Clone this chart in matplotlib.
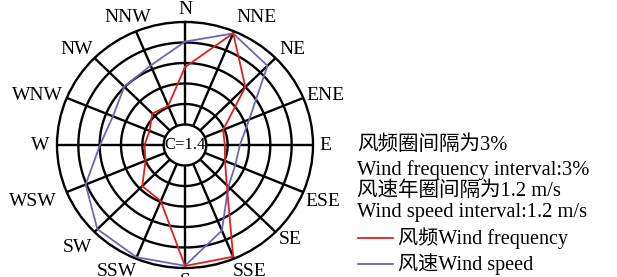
import numpy as np
import matplotlib
matplotlib.use("Agg")
import matplotlib.pyplot as plt

# ---------------- data ----------------
directions = ["N", "NNE", "NE", "ENE", "E", "ESE", "SE", "SSE",
              "S", "SSW", "SW", "WSW", "W", "WNW", "NW", "NNW"]
wind_freq = [8.4, 14.7, 9.0, 2.8, 2.6, 3.1, 5.3, 14.7,
             14.7, 5.9, 5.5, 3.0, 2.7, 2.4, 3.5, 3.2]          # %
wind_speed = [4.85, 5.87, 5.36, 2.71, 1.89, 1.86, 2.25, 4.22,
              5.87, 5.91, 5.77, 4.85, 3.58, 3.19, 3.63, 3.84]  # m/s
calm = 1.4
freq_interval = 3.0
speed_interval = 1.2
n_rings = 5

# label offsets from rose centre, in pixels (x right, y up)
label_dx = [0, 72, 107, 140, 140, 138, 105, 65, 0, -68, -108, -152, -145, -148, -108, -57]
label_dy = [135, 127, 95, 50, 0, -57, -95, -127, -136, -127, -102, -57, 0, 50, 95, 128]

# ---------------- figure ----------------
W, H = 617, 277
fig = plt.figure(figsize=(W / 100, H / 100), dpi=100)
fig.patch.set_facecolor("white")

cx, cy = 185, 145      # centre (px, from top)
rx, ry = 128, 123      # outer radii (px)
ax = fig.add_axes([(cx - rx) / W, (H - cy - ry) / H, 2 * rx / W, 2 * ry / H],
                  projection="polar")
ax.set_aspect("auto")
ax.set_theta_zero_location("N")
ax.set_theta_direction(-1)
rmax = 1 + n_rings
ax.set_ylim(0, rmax)
ax.grid(False)
ax.set_xticks([])
ax.set_yticks([])
ax.spines["polar"].set_linewidth(1.7)
ax.spines["polar"].set_color("black")

theta = np.deg2rad(np.arange(len(directions)) * 22.5)
circ = np.linspace(0, 2 * np.pi, 361)
grid_kw = dict(color="black", lw=1.7, solid_capstyle="butt", zorder=2)
for k in range(1, n_rings + 1):
    ax.plot(circ, np.full_like(circ, k), **grid_kw)
for t in theta:
    ax.plot([t, t], [1, rmax], **grid_kw)

r_freq = 1 + np.array(wind_freq) / freq_interval
r_speed = 1 + np.array(wind_speed) / speed_interval
tt = np.append(theta, theta[0])
ax.plot(tt, np.append(r_speed, r_speed[0]), color="#6a68b2", lw=1.3, zorder=3)
ax.plot(tt, np.append(r_freq, r_freq[0]), color="#e0201c", lw=1.3, zorder=4)

serif = ["Liberation Serif", "Noto Sans CJK SC"]
ax.text(0, 0, f"C={calm}", ha="center", va="center", fontsize=12,
        family=serif, zorder=5)

for name, dx, dy in zip(directions, label_dx, label_dy):
    ax.annotate(name, xy=(0, 0), xytext=(dx, dy), textcoords="offset pixels",
                ha="center", va="center", fontsize=14, family=serif,
                annotation_clip=False)

# ---------------- right-hand notes ----------------
def fx(x):
    return x / W

def fy(y):
    return 1 - y / H

notes = [f"风频圈间隔为{freq_interval:g}%",
         f"Wind frequency interval:{freq_interval:g}%",
         f"风速年圈间隔为{speed_interval:g} m/s",
         f"Wind speed interval:{speed_interval:g} m/s"]
note_y = [145, 170, 191, 213]
for s, y in zip(notes, note_y):
    fig.text(fx(357), fy(y), s, ha="left", va="center", fontsize=14.8, family=serif)

legend_items = [("风频Wind frequency", "#e0201c", 238),
                ("风速Wind speed", "#6a68b2", 264)]
for s, c, y in legend_items:
    fig.add_artist(plt.Line2D([fx(358), fx(393)], [fy(y), fy(y)],
                              color=c, lw=1.3, transform=fig.transFigure))
    fig.text(fx(398), fy(y), s, ha="left", va="center", fontsize=14.5, family=serif)

fig.savefig("out.png", dpi=100)
